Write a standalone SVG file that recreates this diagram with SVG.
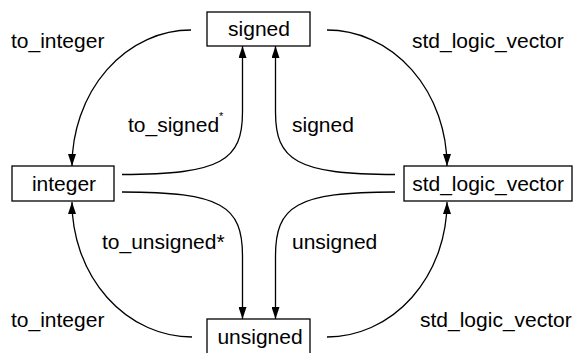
<svg xmlns="http://www.w3.org/2000/svg" width="573" height="353" viewBox="0 0 573 353">
  <style>
    .box { fill: #ffffff; stroke: #000000; stroke-width: 1.3; }
    .lbl { font-family: "Liberation Sans", Arial, Helvetica, sans-serif; font-size: 21px; fill: #000000; }
    .mid { text-anchor: middle; }
    .conn { fill: none; stroke: #000000; stroke-width: 1.3; marker-end: url(#arrow); }
  </style>
  <defs>
    <marker id="arrow" viewBox="0 0 12 8" refX="12" refY="4" markerWidth="12" markerHeight="8" markerUnits="userSpaceOnUse" orient="auto">
      <path d="M0,0 L12,4 L0,8 z" fill="#000000"/>
    </marker>
  </defs>
  <rect width="573" height="353" fill="#ffffff"/>

  <!-- connectors -->
  <g id="connectors">
    <!-- outer arcs -->
    <path class="conn" d="M191 30 A 119 136 0 0 0 72 166"/>
    <path class="conn" d="M327 30 A 120 136 0 0 1 447 166"/>
    <path class="conn" d="M192 337 A 120 135 0 0 1 72 202"/>
    <path class="conn" d="M327 337 A 120 135 0 0 0 447 202"/>
    <!-- inner curves -->
    <path class="conn" d="M122 174.5 C 222 174.5 242.5 160 242.5 112 L 242.5 46"/>
    <path class="conn" d="M395 174.5 C 296 174.5 275.5 160 275.5 112 L 275.5 46"/>
    <path class="conn" d="M122 192 C 222 192 242.5 206 242.5 256 L 242.5 319"/>
    <path class="conn" d="M395 192 C 296 192 275.5 206 275.5 256 L 275.5 319"/>
  </g>

  <!-- nodes -->
  <g id="signed">
    <rect class="box" x="207" y="12" width="103" height="34"/>
    <text class="lbl mid" x="259" y="36">signed</text>
  </g>
  <g id="integer">
    <rect class="box" x="12" y="166" width="102" height="35"/>
    <text class="lbl mid" x="64" y="191">integer</text>
  </g>
  <g id="std_logic_vector">
    <rect class="box" x="404" y="166" width="168" height="35"/>
    <text class="lbl mid" x="488" y="191">std_logic_vector</text>
  </g>
  <g id="unsigned">
    <rect class="box" x="207" y="319" width="103" height="36"/>
    <text class="lbl mid" x="260" y="344">unsigned</text>
  </g>

  <!-- connector labels -->
  <g id="labels">
    <text class="lbl" x="11" y="48">to_integer</text>
    <text class="lbl" x="412" y="48">std_logic_vector</text>
    <text class="lbl" x="128" y="132">to_signed<tspan font-size="11" dy="-12">*</tspan></text>
    <text class="lbl" x="292" y="132">signed</text>
    <text class="lbl" x="102" y="249">to_unsigned*</text>
    <text class="lbl" x="292" y="249">unsigned</text>
    <text class="lbl" x="11" y="327">to_integer</text>
    <text class="lbl" x="420" y="327">std_logic_vector</text>
  </g>
</svg>
